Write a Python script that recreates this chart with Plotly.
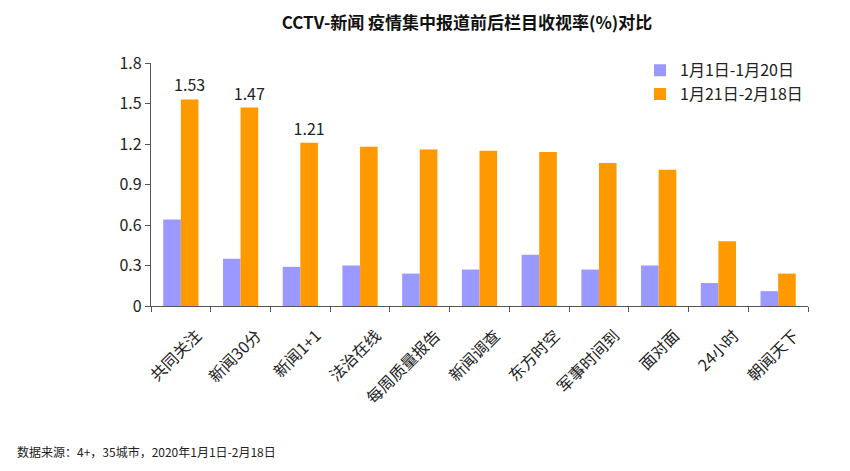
import plotly.graph_objects as go

categories = ["共同关注", "新闻30分", "新闻1+1", "法治在线", "每周质量报告", "新闻调查",
              "东方时空", "军事时间到", "面对面", "24小时", "朝闻天下"]
series1_name = "1月1日-1月20日"
series2_name = "1月21日-2月18日"
series1 = [0.64, 0.35, 0.29, 0.30, 0.24, 0.27, 0.38, 0.27, 0.30, 0.17, 0.11]
series2 = [1.53, 1.47, 1.21, 1.18, 1.16, 1.15, 1.14, 1.06, 1.01, 0.48, 0.24]
labeled_count = 3
y_ticks = [0, 0.3, 0.6, 0.9, 1.2, 1.5, 1.8]
y_tick_labels = ["0", "0.3", "0.6", "0.9", "1.2", "1.5", "1.8"]

FONT = "Noto Sans CJK SC"
labels2 = [f"{v:.2f}" if i < labeled_count else "" for i, v in enumerate(series2)]

fig = go.Figure()
fig.add_trace(go.Bar(x=categories, y=series1, name=series1_name,
                     marker=dict(color="#9999FF", line=dict(width=0))))
fig.add_trace(go.Bar(x=categories, y=series2, name=series2_name,
                     marker=dict(color="#FF9900", line=dict(width=0)),
                     text=labels2, textposition="outside", cliponaxis=False,
                     textangle=0, constraintext="none",
                     textfont=dict(size=16, color="#222222", family=FONT)))

fig.update_layout(
    width=850, height=471,
    paper_bgcolor="white", plot_bgcolor="white",
    margin=dict(l=143, r=50, t=55, b=173),
    barmode="group", bargap=0.41, bargroupgap=0,
    font=dict(family=FONT, color="#222222"),
    title=dict(text="<b>CCTV-新闻 疫情集中报道前后栏目收视率(%)对比</b>",
               x=0.54, xref="container", xanchor="center",
               y=0.968, yref="container", yanchor="middle",
               font=dict(size=17, family=FONT, color="#111111")),
    legend=dict(x=1.0, y=1.04, xanchor="right", yanchor="top",
                font=dict(size=16, family=FONT, color="#222222"),
                itemwidth=30, tracegroupgap=2, bgcolor="rgba(0,0,0,0)"),
    showlegend=True,
    annotations=[dict(text="数据来源：4+，35城市，2020年1月1日-2月18日",
                      x=-0.207, y=-0.60, xref="paper", yref="paper",
                      xanchor="left", yanchor="middle", showarrow=False,
                      font=dict(size=12, family=FONT, color="#222222"))],
)

fig.update_xaxes(showline=True, linecolor="#555555", linewidth=1.2,
                 ticks="outside", tickson="boundaries", ticklen=5, tickcolor="#555555",
                 tickangle=-45, ticklabelshift=16, ticklabelstandoff=13,
                 tickfont=dict(size=16, family=FONT, color="#222222"),
                 showgrid=False)
fig.update_yaxes(range=[0, 1.8], tickvals=y_ticks, ticktext=y_tick_labels,
                 showline=True, linecolor="#555555", linewidth=1.2,
                 ticks="outside", ticklen=5, tickcolor="#555555",
                 tickfont=dict(size=16, family=FONT, color="#222222"),
                 showgrid=False, zeroline=False)

fig.write_html("out.html")
